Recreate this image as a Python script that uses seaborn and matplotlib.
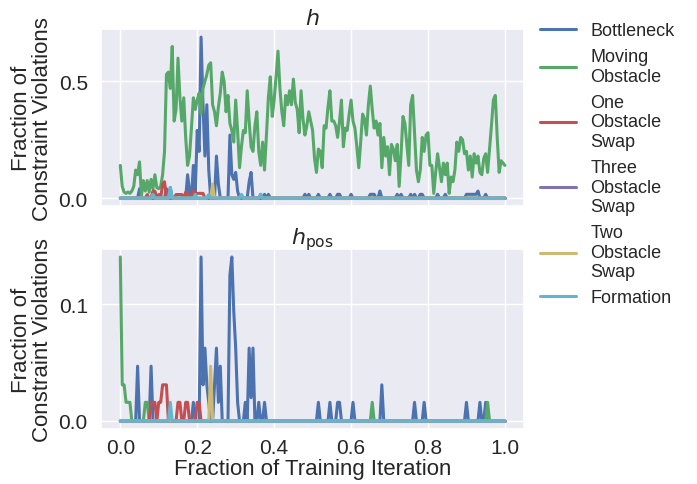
import numpy as np
import matplotlib
matplotlib.use("Agg")
import matplotlib.pyplot as plt
import seaborn as sns

# ---------------- data ----------------
n_steps = 200
iteration = np.arange(n_steps + 1) / n_steps

series_names = ["Bottleneck", "Moving Obstacle", "One Obstacle Swap",
                "Three Obstacle Swap", "Two Obstacle Swap", "Formation"]
legend_labels = ["Bottleneck", "Moving\nObstacle", "One\nObstacle\nSwap",
                 "Three\nObstacle\nSwap", "Two\nObstacle\nSwap", "Formation"]
series_colors = ["#4C72B0", "#55A868", "#C44E52", "#8172B3", "#CCB974", "#64B5CD"]

# h : Moving Obstacle (full series)
h_moving = [0.14, 0.05, 0.025, 0.02, 0.026, 0.02, 0.03, 0.05, 0.12, 0.10,
            0.155, 0.01, 0.075, 0.03, 0.075, 0.025, 0.08, 0.04, 0.10, 0.045,
            0.04, 0.05, 0.10, 0.20, 0.53, 0.54, 0.47, 0.65, 0.33, 0.38,
            0.60, 0.43, 0.33, 0.43, 0.26, 0.14, 0.18, 0.30, 0.43, 0.38,
            0.42, 0.45, 0.36, 0.47, 0.50, 0.53, 0.57, 0.58, 0.40, 0.37,
            0.31, 0.39, 0.45, 0.54, 0.50, 0.37, 0.44, 0.32, 0.29, 0.24,
            0.42, 0.29, 0.13, 0.22, 0.29, 0.28, 0.46, 0.33, 0.22, 0.20,
            0.31, 0.37, 0.20, 0.14, 0.24, 0.12, 0.27, 0.43, 0.52, 0.35,
            0.42, 0.52, 0.63, 0.47, 0.37, 0.31, 0.44, 0.40, 0.46, 0.40,
            0.51, 0.41, 0.38, 0.28, 0.46, 0.34, 0.27, 0.31, 0.37, 0.33,
            0.29, 0.17, 0.11, 0.21, 0.20, 0.13, 0.31, 0.30, 0.39, 0.46,
            0.33, 0.33, 0.31, 0.26, 0.33, 0.42, 0.22, 0.30, 0.29, 0.36,
            0.42, 0.33, 0.30, 0.22, 0.13, 0.24, 0.36, 0.34, 0.27, 0.40,
            0.48, 0.38, 0.30, 0.33, 0.27, 0.32, 0.13, 0.26, 0.18, 0.22,
            0.10, 0.23, 0.21, 0.16, 0.23, 0.05, 0.19, 0.35, 0.32, 0.23,
            0.14, 0.40, 0.44, 0.28, 0.12, 0.07, 0.12, 0.26, 0.20, 0.27,
            0.28, 0.14, 0.14, 0.02, 0.11, 0.19, 0.13, 0.07, 0.15, 0.10,
            0.15, 0.02, 0.09, 0.07, 0.12, 0.24, 0.20, 0.26, 0.25, 0.19,
            0.20, 0.12, 0.18, 0.09, 0.19, 0.15, 0.18, 0.11, 0.10, 0.17,
            0.19, 0.11, 0.21, 0.31, 0.42, 0.44, 0.26, 0.11, 0.16, 0.15, 0.14]

# Sparse series: {training step: value}, zero at every other step
h_bottleneck = {10: 0.04, 24: 0.04, 26: 0.045, 35: 0.10, 36: 0.03, 38: 0.14,
                39: 0.02, 40: 0.29, 41: 0.20, 42: 0.69, 43: 0.40, 44: 0.18,
                45: 0.40, 46: 0.12, 50: 0.18, 51: 0.06, 57: 0.27, 58: 0.10,
                59: 0.08, 60: 0.11, 61: 0.03, 67: 0.07, 68: 0.11, 73: 0.016,
                75: 0.016, 77: 0.016, 96: 0.016, 98: 0.016, 103: 0.016,
                109: 0.016, 113: 0.016, 114: 0.016, 120: 0.016, 130: 0.016,
                131: 0.016, 132: 0.016, 135: 0.03, 144: 0.016, 146: 0.016,
                151: 0.016, 153: 0.016, 156: 0.016, 157: 0.016, 165: 0.016,
                169: 0.016, 180: 0.016, 181: 0.016, 182: 0.016, 183: 0.016,
                184: 0.016, 185: 0.016, 186: 0.03, 190: 0.016}
h_one_swap = {14: 0.015, 17: 0.03, 18: 0.03, 20: 0.015, 22: 0.06, 23: 0.07,
              25: 0.02, 29: 0.015, 30: 0.015, 31: 0.015, 32: 0.015, 34: 0.025,
              35: 0.025, 38: 0.03, 39: 0.02, 40: 0.02, 41: 0.02, 42: 0.02, 43: 0.02}
h_three_swap = {}
h_two_swap = {17: 0.012, 26: 0.02, 46: 0.012, 48: 0.06, 63: 0.012, 73: 0.012}
h_formation = {17: 0.016, 26: 0.045, 39: 0.016, 46: 0.016, 63: 0.016, 73: 0.016}

# h_pos
hpos_bottleneck = {9: 0.047, 16: 0.047, 38: 0.016, 42: 0.1406, 43: 0.031,
                   44: 0.0625, 45: 0.031, 46: 0.016, 49: 0.031, 50: 0.0625,
                   51: 0.016, 52: 0.047, 57: 0.125, 58: 0.1406, 59: 0.094,
                   60: 0.0625, 61: 0.016, 65: 0.016, 67: 0.0625, 68: 0.02,
                   69: 0.0625, 72: 0.016, 75: 0.016, 103: 0.016, 109: 0.016,
                   113: 0.016, 114: 0.016, 121: 0.016, 136: 0.031, 153: 0.016,
                   158: 0.016, 180: 0.016, 187: 0.016, 190: 0.016}
hpos_moving = {0: 0.1406, 1: 0.031, 2: 0.031, 3: 0.016, 4: 0.016, 5: 0.016,
               13: 0.016, 14: 0.016, 131: 0.016, 191: 0.016}
hpos_one_swap = {16: 0.016, 17: 0.016, 18: 0.016, 20: 0.016, 21: 0.016,
                 22: 0.031, 23: 0.031, 24: 0.031, 30: 0.016, 31: 0.016,
                 34: 0.016, 35: 0.016, 40: 0.016, 41: 0.016}
hpos_three_swap = {}
hpos_two_swap = {47: 0.047}
hpos_formation = {26: 0.016}


def expand(spikes):
    arr = np.zeros(n_steps + 1)
    for step, val in spikes.items():
        arr[step] = val
    return arr


top_series = [expand(h_bottleneck), np.array(h_moving), expand(h_one_swap),
              expand(h_three_swap), expand(h_two_swap), expand(h_formation)]
bottom_series = [expand(hpos_bottleneck), expand(hpos_moving), expand(hpos_one_swap),
                 expand(hpos_three_swap), expand(hpos_two_swap), expand(hpos_formation)]

# ---------------- plot ----------------
sns.set_theme(style="darkgrid")
plt.rcParams["font.family"] = ["Liberation Sans", "DejaVu Sans"]

fig = plt.figure(figsize=(6.97, 4.85), dpi=100)
ax_top = fig.add_axes([0.145, 0.573, 0.607, 0.365])
ax_bot = fig.add_axes([0.145, 0.113, 0.607, 0.372], sharex=ax_top)

for vals, name, lab, col in zip(top_series, series_names, legend_labels, series_colors):
    sns.lineplot(x=iteration, y=vals, ax=ax_top, color=col, label=lab, linewidth=2.2)
for vals, name, col in zip(bottom_series, series_names, series_colors):
    sns.lineplot(x=iteration, y=vals, ax=ax_bot, color=col, linewidth=2.2, legend=False)

ax_top.set_title("$h$", fontsize=16, pad=4)
ax_bot.set_title(r"$h_{\mathrm{pos}}$", fontsize=16, pad=4)
for ax in (ax_top, ax_bot):
    ax.set_ylabel("Fraction of\nConstraint Violations", fontsize=16, linespacing=1.0)
    ax.tick_params(labelsize=15)
ax_top.set_yticks([0.0, 0.5])
ax_bot.set_yticks([0.0, 0.1])
ax_bot.set_xticks([0.0, 0.2, 0.4, 0.6, 0.8, 1.0])
ax_bot.tick_params(axis="x", pad=0)
ax_top.tick_params(labelbottom=False)
ax_bot.set_xlabel("Fraction of Training Iteration", fontsize=16, labelpad=1)

ax_top.legend(loc="upper left", bbox_to_anchor=(1.02, 1.08), frameon=False,
              fontsize=13, labelspacing=0.5, handlelength=2.0, borderaxespad=0)

fig.savefig("out.png", dpi=100)
